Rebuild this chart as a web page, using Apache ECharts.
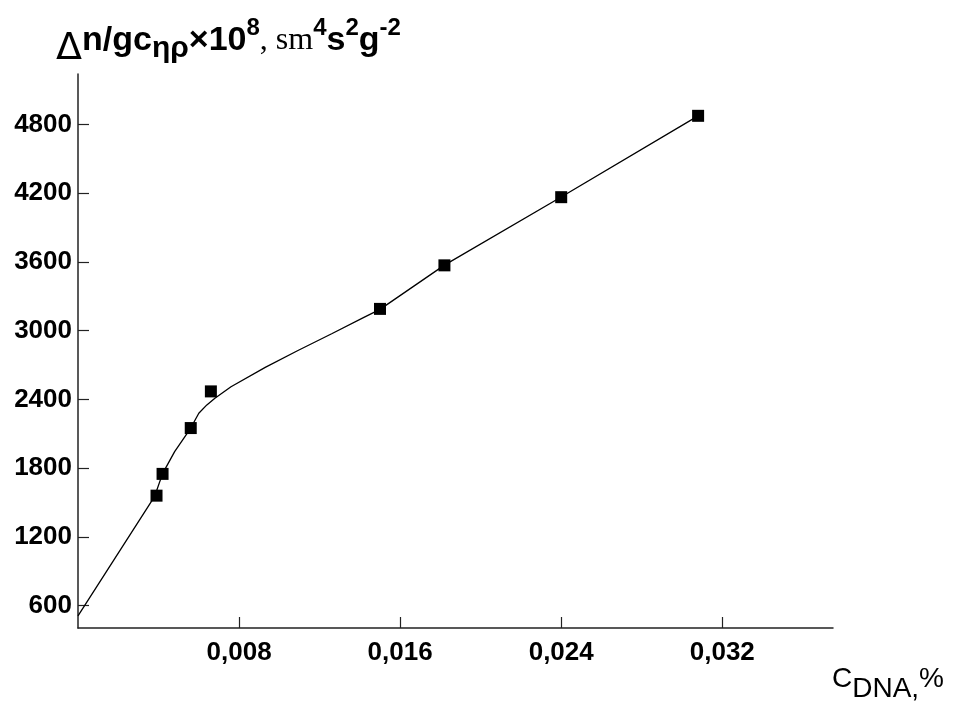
<!DOCTYPE html>
<html>
<head>
<meta charset="utf-8">
<script src="https://cdn.jsdelivr.net/npm/echarts@6/dist/echarts.min.js"></script>
<style>
  html, body { margin: 0; padding: 0; background: #fff; }
  #chart { width: 975px; height: 705px; }
</style>
</head>
<body>
<div id="chart"></div>
<script>
// Measured points (C_DNA, %  ->  Δn/gcηρ×10^8)
const pointX = [0.0039, 0.0042, 0.0056, 0.0066, 0.0150, 0.0182, 0.0240, 0.0308];
const pointY = [1560, 1750, 2150, 2470, 3190, 3570, 4165, 4875];

// Fitted curve
const curveX = [0, 0.0038, 0.0042, 0.0048, 0.0056, 0.0060, 0.0064, 0.0068, 0.0076, 0.0093, 0.0109, 0.0126, 0.0142, 0.0150, 0.0182, 0.0240, 0.0308];
const curveY = [510, 1551, 1752, 1944, 2150, 2279, 2352, 2410, 2511, 2680, 2825, 2973, 3116, 3186, 3572, 4166, 4875];

// Tick values
const xTicks = [0.008, 0.016, 0.024, 0.032];
const yTicks = [600, 1200, 1800, 2400, 3000, 3600, 4200, 4800];

const chart = echarts.init(document.getElementById('chart'));

const axisColor = '#222';
const labelFont = 'Liberation Sans, Arial, sans-serif';

const option = {
  backgroundColor: '#fff',
  animation: false,
  grid: { left: 78, right: 142, top: 74, bottom: 77, containLabel: false },
  xAxis: {
    type: 'value',
    min: 0,
    max: 0.0375,
    axisLine: { show: true, onZero: false, lineStyle: { color: axisColor, width: 1.5 } },
    axisTick: { show: true, inside: true, length: 11, customValues: xTicks, lineStyle: { color: axisColor, width: 1.2 } },
    axisLabel: {
      customValues: xTicks,
      margin: 12,
      color: '#000',
      fontFamily: labelFont,
      fontWeight: 'bold',
      fontSize: 26,
      formatter: v => v.toFixed(3).replace('.', ',')
    },
    splitLine: { show: false }
  },
  yAxis: {
    type: 'value',
    min: 405,
    max: 5240,
    axisLine: { show: true, onZero: false, lineStyle: { color: axisColor, width: 1.5 } },
    axisTick: { show: true, inside: true, length: 11, customValues: yTicks, lineStyle: { color: axisColor, width: 1.2 } },
    axisLabel: {
      customValues: yTicks,
      margin: 6,
      color: '#000',
      fontFamily: labelFont,
      fontWeight: 'bold',
      fontSize: 26,
      formatter: v => String(Math.round(v))
    },
    splitLine: { show: false }
  },
  graphic: [
    {
      type: 'text',
      left: 56,
      top: 14,
      style: {
        text: '{d|Δ}{b|n/gc}{sub|ηρ}{b|×10}{sup|8}{t|, sm}{sup|4}{b|s}{sup|2}{b|g}{sup|-2}',
        rich: {
          d: { fontFamily: 'DejaVu Sans, sans-serif', fontSize: 38, fontWeight: 'normal', color: '#000', lineHeight: 56, padding: [16, 0, 0, 0] },
          b: { fontFamily: labelFont, fontSize: 34, fontWeight: 'bold', color: '#000', lineHeight: 56 },
          sub: { fontFamily: labelFont, fontSize: 30, fontWeight: 'bold', color: '#000', lineHeight: 56, padding: [16, 0, 0, 0] },
          sup: { fontFamily: labelFont, fontSize: 24, fontWeight: 'bold', color: '#000', lineHeight: 56, padding: [0, 0, 26, 0] },
          t: { fontFamily: 'Liberation Serif, Times New Roman, serif', fontSize: 32, fontWeight: 'normal', color: '#000', lineHeight: 56 }
        }
      }
    },
    {
      type: 'text',
      left: 832,
      top: 655,
      style: {
        text: '{c|C}{s|DNA,}{c|%}',
        rich: {
          c: { fontFamily: labelFont, fontSize: 28, color: '#000', lineHeight: 40 },
          s: { fontFamily: labelFont, fontSize: 28, color: '#000', lineHeight: 40, padding: [20, 0, 0, 0] }
        }
      }
    }
  ],
  series: [
    {
      type: 'line',
      data: curveX.map((x, i) => [x, curveY[i]]),
      smooth: false,
      showSymbol: false,
      lineStyle: { color: '#000', width: 1.3 },
      z: 2
    },
    {
      type: 'scatter',
      data: pointX.map((x, i) => [x, pointY[i]]),
      symbol: 'rect',
      symbolSize: 12,
      itemStyle: { color: '#000', opacity: 1 },
      z: 3
    }
  ]
};

chart.setOption(option);
</script>
</body>
</html>
